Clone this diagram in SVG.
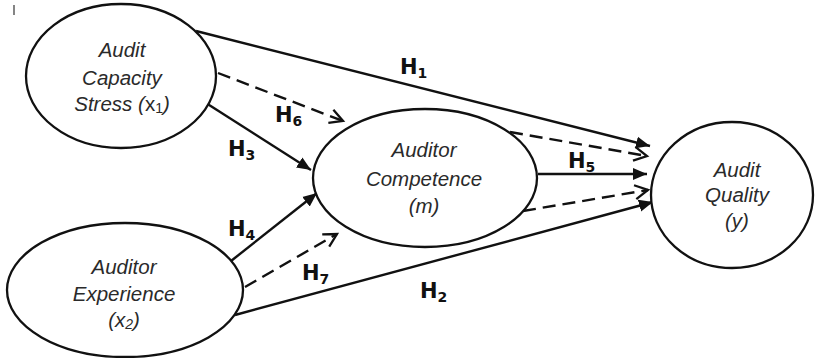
<svg xmlns="http://www.w3.org/2000/svg" width="815" height="358" viewBox="0 0 815 358">
  <style>
    .node ellipse { fill: #fff; stroke: #111; stroke-width: 2.3; }
    .node text { font-family: "Liberation Sans", Arial, sans-serif; font-style: italic; font-size: 20.5px; fill: #2a2a2a; text-anchor: middle; }
    .sub { font-size: 14px; }
    .edge { fill: none; stroke: #111; stroke-width: 2.4; }
    .dash { stroke-dasharray: 13 7; }
    .lbl { font-family: "DejaVu Sans", Verdana, sans-serif; font-weight: bold; font-size: 21px; fill: #111; }
    .lbl tspan { font-size: 14px; }
  </style>
  <defs>
    <marker id="solidHead" markerUnits="userSpaceOnUse" markerWidth="16" markerHeight="14" refX="14" refY="7" orient="auto">
      <path d="M0,1 L14,7 L0,13 Z" fill="#111"/>
    </marker>
    <marker id="openHead" markerUnits="userSpaceOnUse" markerWidth="17" markerHeight="17" refX="14" refY="8.5" orient="auto">
      <path d="M1,1.5 L14,8.5 L1,15.5" fill="none" stroke="#111" stroke-width="2.3"/>
    </marker>
  </defs>

  <!-- stray mark at the upper left -->
  <line x1="14" y1="5" x2="14" y2="15" stroke="#333" stroke-width="1.2"/>

  <g id="connectors">
    <!-- H1 -->
    <line class="edge" x1="196" y1="31" x2="650" y2="146" marker-end="url(#solidHead)"/>
    <!-- H6 -->
    <line class="edge dash" x1="218" y1="73" x2="343" y2="121" marker-end="url(#openHead)"/>
    <!-- H3 -->
    <line class="edge" x1="206" y1="103" x2="311" y2="170" marker-end="url(#solidHead)"/>
    <!-- H4 -->
    <line class="edge" x1="231" y1="261" x2="317" y2="193" marker-end="url(#solidHead)"/>
    <!-- H7 -->
    <line class="edge dash" x1="245" y1="287" x2="337" y2="234" marker-end="url(#openHead)"/>
    <!-- H2 -->
    <line class="edge" x1="235" y1="315" x2="653" y2="202" marker-end="url(#solidHead)"/>
    <!-- H5 -->
    <line class="edge" x1="538" y1="174" x2="647" y2="174" marker-end="url(#solidHead)"/>
    <!-- indirect paths through the mediator -->
    <line class="edge dash" x1="510" y1="132" x2="647" y2="156" marker-end="url(#openHead)"/>
    <line class="edge dash" x1="523" y1="211" x2="648" y2="190" marker-end="url(#openHead)"/>
  </g>

  <g id="labels">
    <text class="lbl" x="400" y="74">H<tspan dy="4">1</tspan></text>
    <text class="lbl" x="275" y="122">H<tspan dy="4">6</tspan></text>
    <text class="lbl" x="228" y="156">H<tspan dy="4">3</tspan></text>
    <text class="lbl" x="228" y="236">H<tspan dy="4">4</tspan></text>
    <text class="lbl" x="302" y="280">H<tspan dy="4">7</tspan></text>
    <text class="lbl" x="420" y="298">H<tspan dy="4">2</tspan></text>
    <text class="lbl" x="568" y="168">H<tspan dy="4">5</tspan></text>
  </g>

  <g id="capacity-stress" class="node">
    <ellipse cx="121" cy="76" rx="95" ry="72"/>
    <text x="122" y="57">Audit</text>
    <text x="122" y="85">Capacity</text>
    <text x="122" y="111">Stress (<tspan font-style="normal">x<tspan class="sub" dy="2">1</tspan></tspan><tspan dy="-2">)</tspan></text>
  </g>

  <g id="experience" class="node">
    <ellipse cx="125" cy="290" rx="118" ry="67"/>
    <text x="124" y="274">Auditor</text>
    <text x="124" y="301">Experience</text>
    <text x="124" y="327">(x<tspan class="sub" dy="2">2</tspan><tspan dy="-2">)</tspan></text>
  </g>

  <g id="competence" class="node">
    <ellipse cx="425" cy="178" rx="112" ry="69"/>
    <text x="424" y="157">Auditor</text>
    <text x="424" y="186">Competence</text>
    <text x="424" y="213">(m)</text>
  </g>

  <g id="audit-quality" class="node">
    <ellipse cx="732" cy="195" rx="81" ry="73"/>
    <text x="737" y="177">Audit</text>
    <text x="737" y="202">Quality</text>
    <text x="737" y="228">(y)</text>
  </g>
</svg>
